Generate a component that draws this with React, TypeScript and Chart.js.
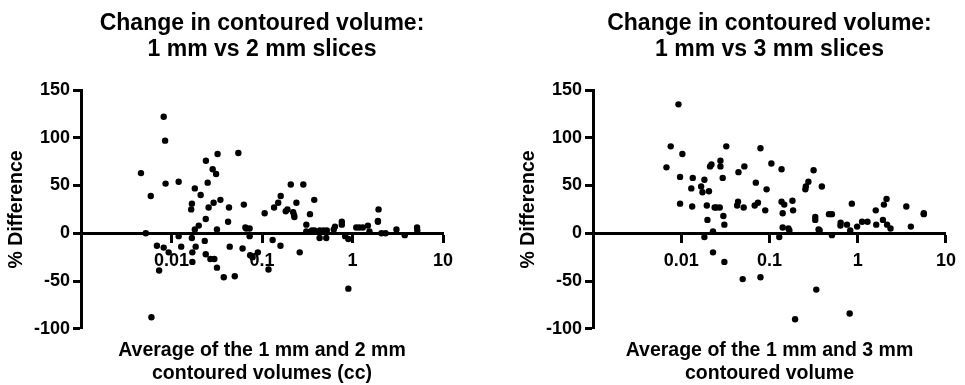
import React, { useEffect, useRef } from "react";
import { Chart, registerables } from "chart.js";

Chart.register(...registerables);

const FONT = '"Liberation Sans", Arial, Helvetica, sans-serif';

// Tick values
const xTickValues = [0.01, 0.1, 1, 10];
const yTickValues = [-100, -50, 0, 50, 100, 150];

// Titles
const leftTitle = ["Change in contoured volume:", "1 mm vs 2 mm slices"];
const leftXTitle = ["Average of the 1 mm and 2 mm", "contoured volumes (cc)"];
const rightTitle = ["Change in contoured volume:", "1 mm vs 3 mm slices"];
const rightXTitle = ["Average of the 1 mm and 3 mm", "contoured volume"];
const yTitle = "% Difference";

// Left panel: 1 mm vs 2 mm
const leftVolumes = [
  0.0046, 0.0052, 0.0059, 0.006, 0.0069, 0.0073, 0.0082, 0.0085, 0.0086, 0.0082, 0.0093,
  0.012, 0.012, 0.0128, 0.0165, 0.0168, 0.0168, 0.017, 0.017, 0.0181, 0.0181,
  0.0185, 0.02, 0.021, 0.0233, 0.0239, 0.0239, 0.024, 0.0251, 0.0257, 0.0269,
  0.0285, 0.0292, 0.0297, 0.0311, 0.0318, 0.0318, 0.0323, 0.0347, 0.0378, 0.0422,
  0.0432, 0.044, 0.05, 0.0548, 0.061, 0.063, 0.0655, 0.067, 0.073, 0.073,
  0.074, 0.0787, 0.09,
  0.107, 0.118, 0.131, 0.136, 0.151, 0.16, 0.161, 0.183, 0.191, 0.208,
  0.221, 0.226, 0.228, 0.24, 0.261, 0.286, 0.309, 0.309, 0.339, 0.356,
  0.378, 0.38, 0.433, 0.436, 0.479, 0.513, 0.52, 0.621, 0.64, 0.762,
  0.762, 0.83, 0.9, 0.9,
  1.1, 1.19, 1.3, 1.48, 1.54, 1.91, 1.91, 1.94, 2.09, 2.32,
  3.06, 3.78, 5.17, 5.2,
];
const leftDiffs = [
  63, 0, 39, -88, -13, -39, 122, 97, 52, -15, -20,
  54, -3, -14, 25, 31, -5, -20, -30, 47, 4,
  -14, 8, 40, -8, 15, -22, 76, 53, 27, -27,
  67, 32, -27, 62, 4, -36, 83, 35, -46, 12,
  27, -14, -45, 84, -16, 30, 6, 5, 5, -3,
  -23, -25, -20,
  21, -38, -7, 27, 32, -13, 39, 23, 25, 51,
  22, 19, 17, 32, -20, 51, 9, 2, 20, 3,
  35, 3, -5, 3, 3, -5, 3, 4, 7, 9,
  12, -3, -6, -58,
  6, 6, 6, 8, 2, 12, 13, 25, 0, 0,
  4, -2, 6, 3,
];

// Right panel: 1 mm vs 3 mm
const rightVolumes = [
  0.0068, 0.0076, 0.0093, 0.0097, 0.0097, 0.0103, 0.013, 0.0135, 0.0133, 0.0168,
  0.0174, 0.0183, 0.0183, 0.0195, 0.0198, 0.0206, 0.0212, 0.022, 0.0229, 0.0229,
  0.0239, 0.025, 0.0273, 0.0278, 0.0278, 0.0295, 0.03, 0.0308, 0.0308, 0.0324,
  0.043, 0.044, 0.0445, 0.051, 0.0497, 0.0519, 0.068, 0.07, 0.074, 0.079,
  0.079, 0.0895, 0.0927, 0.105, 0.129, 0.137, 0.137, 0.141, 0.141, 0.147,
  0.164, 0.168, 0.182, 0.185, 0.195, 0.255, 0.258, 0.276, 0.316, 0.33,
  0.33, 0.339, 0.36, 0.37, 0.392, 0.472, 0.51, 0.51, 0.637, 0.64,
  0.755, 0.81, 0.822, 0.857, 0.984, 1.12, 1.29, 1.6, 1.62, 1.93,
  1.98, 2.12, 2.15, 2.35, 3.55, 4.0, 5.6, 5.6,
];
const rightDiffs = [
  69, 91, 135, 59, 31, 83, 47, 58, 28, 49,
  43, 56, -4, 29, 14, 44, 70, 72, 2, -20,
  27, 27, 27, 70, 76, 58, 18, 9, -30, 91,
  29, 33, 64, 27, -48, 70, 29, 53, 32, 89,
  -46, 24, 46, 73, -4, 67, 33, 21, 6, 30,
  5, 3, 34, 24, -90, 46, 49, 54, 66, 17,
  14, -59, 4, 3, 49, 20, 20, -2, 8, 11,
  9, -84, 3, 31, 7, 12, 12, 24, 9, 14,
  30, 36, 9, 5, 28, 7, 21, 20,
];

function makeConfig(
  xs: number[],
  ys: number[],
  title: string[],
  xTitle: string[],
  padLeft: number,
  padRight: number
): any {
  const font = (size: number, lineHeight = 1.2) => ({
    family: FONT,
    size,
    weight: "bold" as const,
    lineHeight,
  });
  return {
    type: "scatter",
    data: {
      datasets: [
        {
          data: xs.map((x, i) => ({ x, y: ys[i] })),
          pointRadius: 3.2,
          pointBackgroundColor: "#000",
          pointBorderWidth: 0,
          borderColor: "#000",
          backgroundColor: "#000",
        },
      ],
    },
    options: {
      responsive: false,
      animation: false,
      events: [],
      layout: { padding: { left: padLeft, right: padRight, top: 0, bottom: 0 } },
      plugins: {
        legend: { display: false },
        tooltip: { enabled: false },
        title: {
          display: true,
          text: title,
          fullSize: false,
          color: "#000",
          font: font(23, 1.12),
          padding: { top: 10.8, bottom: 27.7 },
        },
        subtitle: {
          display: true,
          position: "bottom",
          text: xTitle,
          fullSize: false,
          color: "#000",
          font: font(19.5, 1.16),
          padding: { top: 11, bottom: 0 },
        },
      },
      scales: {
        x: {
          axis: "x",
          type: "logarithmic",
          min: 0.001,
          max: 10,
          position: { y: 0 },
          afterBuildTicks: (s: any) => {
            s.ticks = xTickValues.map((v) => ({ value: v }));
          },
          ticks: {
            color: "#000",
            font: font(18),
            padding: 9,
            autoSkip: false,
            maxRotation: 0,
            callback: (v: any) => String(v),
          },
          grid: {
            display: true,
            drawOnChartArea: false,
            drawTicks: true,
            tickLength: 8,
            tickWidth: 3,
            tickColor: "#000",
          },
          border: { display: true, color: "#000", width: 3 },
        },
        y: {
          axis: "y",
          type: "linear",
          position: "left",
          min: -100,
          max: 150,
          afterBuildTicks: (s: any) => {
            s.ticks = yTickValues.map((v) => ({ value: v }));
          },
          afterFit: (s: any) => {
            s.width = 81;
          },
          ticks: { color: "#000", font: font(18), padding: 3 },
          grid: {
            display: true,
            drawOnChartArea: false,
            drawTicks: true,
            tickLength: 8,
            tickWidth: 3,
            tickColor: "#000",
          },
          border: { display: true, color: "#000", width: 3 },
          title: {
            display: true,
            text: yTitle,
            color: "#000",
            font: font(19.5),
            padding: { top: 4.5, bottom: 0 },
          },
        },
      },
    },
  };
}

function Panel(props: {
  xs: number[];
  ys: number[];
  title: string[];
  xTitle: string[];
  width: number;
  left: number;
  padLeft: number;
  padRight: number;
}) {
  const ref = useRef<HTMLCanvasElement | null>(null);
  useEffect(() => {
    if (!ref.current) return;
    const chart = new Chart(
      ref.current,
      makeConfig(props.xs, props.ys, props.title, props.xTitle, props.padLeft, props.padRight)
    );
    return () => chart.destroy();
  }, []);
  return (
    <canvas
      ref={ref}
      width={props.width}
      height={385}
      style={{ position: "absolute", left: props.left, top: 0, display: "block" }}
    />
  );
}

export default function App() {
  return (
    <div
      style={{
        position: "fixed",
        left: 0,
        top: 0,
        width: 965,
        height: 385,
        background: "#fff",
        overflow: "hidden",
      }}
    >
      <Panel xs={leftVolumes} ys={leftDiffs} title={leftTitle} xTitle={leftXTitle} width={480} left={0} padLeft={0} padRight={37} />
      <Panel xs={rightVolumes} ys={rightDiffs} title={rightTitle} xTitle={rightXTitle} width={485} left={480} padLeft={32} padRight={10} />
    </div>
  );
}
